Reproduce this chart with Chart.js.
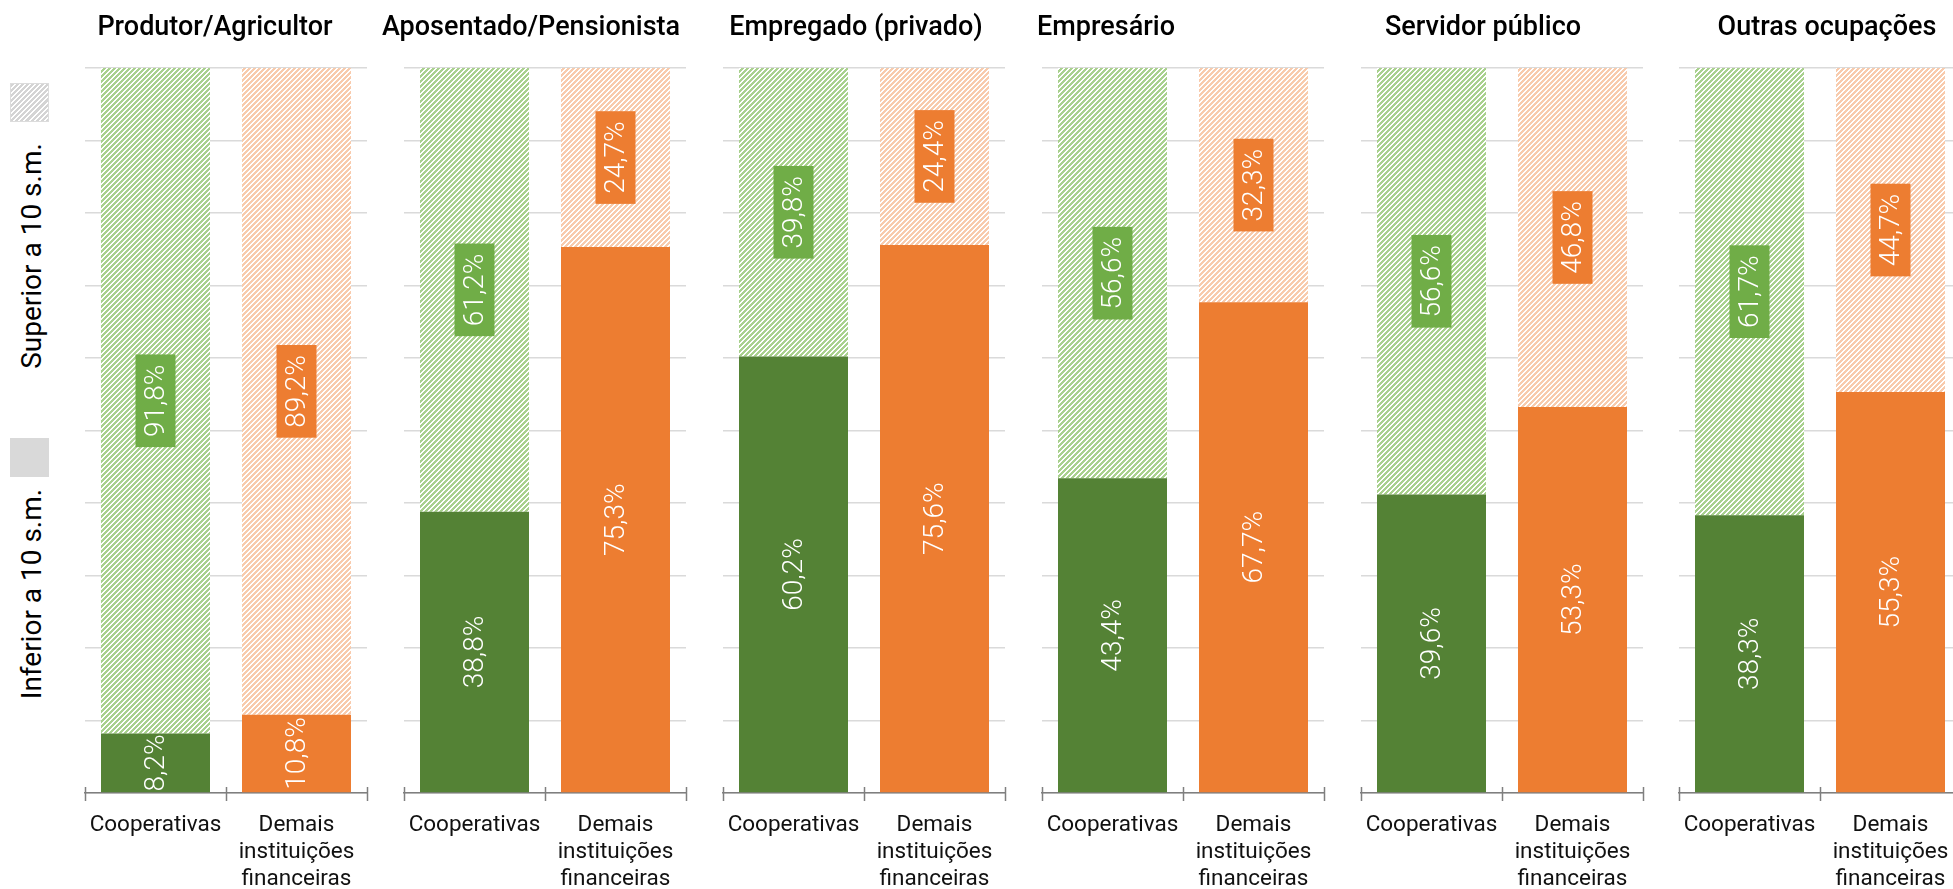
<!DOCTYPE html>
<html><head><meta charset="utf-8">
<script src="https://cdn.jsdelivr.net/npm/chart.js@4.4.1/dist/chart.umd.min.js"></script>
<style>
html,body{margin:0;padding:0;width:1953px;height:889px;overflow:hidden;background:#fff;}
canvas.panel{position:absolute;top:0;}
.lgbox{position:absolute;left:10px;width:39px;height:39px;box-sizing:border-box;}
.lgtext{position:absolute;white-space:nowrap;font-family:Roboto,sans-serif;font-size:28px;color:#000;transform:translate(-50%,-50%) rotate(-90deg);}
</style></head><body>
<div class="lgbox" style="top:83px;border:1px solid #dcdcdc;background:repeating-linear-gradient(135deg,#d4d4d4 0 2.2px,#fff 2.2px 3.6px);"></div>
<div class="lgtext" id="lgSup" style="left:31px;top:256px;"></div>
<div class="lgbox" style="top:438px;background:#d9d9d9;"></div>
<div class="lgtext" id="lgInf" style="left:31px;top:594px;"></div>
<script>
// ---- data ----
const occupations = ['Produtor/Agricultor','Aposentado/Pensionista','Empregado (privado)','Empresário','Servidor público','Outras ocupações'];
const institutions = ['Cooperativas', ['Demais','instituições','financeiras']];
const seriesNames = ['Inferior a 10 s.m.','Superior a 10 s.m.'];
const coopInferior   = [8.2, 38.8, 60.2, 43.4, 39.6, 38.3];
const coopSuperior   = [91.8, 61.2, 39.8, 56.6, 56.6, 61.7];
const demaisInferior = [10.8, 75.3, 75.6, 67.7, 53.3, 55.3];
const demaisSuperior = [89.2, 24.7, 24.4, 32.3, 46.8, 44.7];
const yTickValues = [0,10,20,30,40,50,60,70,80,90,100];

// ---- layout / style ----
const plotLefts = [85, 404, 723, 1042, 1361, 1679];
const titleCenters = [215, 531, 856, 1106, 1483, 1827];
const PAD_L = 34, PAD_R = 10, PLOT_W = 282;
const C_GREEN = '#548235', C_ORANGE = '#ed7d31';
const C_GREEN_LBL = '#70ad47', C_ORANGE_LBL = '#ed7d31';
const C_GREEN_HATCH = '#a9d18e', C_ORANGE_HATCH = '#f8cbad';

document.getElementById('lgSup').textContent = seriesNames[1];
document.getElementById('lgInf').textContent = seriesNames[0];

function fmt(v){ return v.toFixed(1).replace('.', ',') + '%'; }

function makePattern(ctx, color){
  const n = 5;
  const c = document.createElement('canvas'); c.width = n; c.height = n;
  const g = c.getContext('2d');
  g.fillStyle = '#fff'; g.fillRect(0,0,n,n);
  g.fillStyle = color;
  for (let y=0;y<n;y++) for (let x=0;x<n;x++) { if (((x+y)%n) < 3) g.fillRect(x,y,1,1); }
  return ctx.createPattern(c, 'repeat');
}

const segLabels = {
  id: 'segLabels',
  afterDatasetsDraw(chart){
    const {ctx, chartArea} = chart;
    ctx.save();
    ctx.beginPath(); ctx.rect(chartArea.left, chartArea.top, chartArea.width, chartArea.height); ctx.clip();
    ctx.font = '300 28px Roboto, sans-serif';
    ctx.textAlign = 'center'; ctx.textBaseline = 'middle';
    chart.data.datasets.forEach((ds, di) => {
      const meta = chart.getDatasetMeta(di);
      meta.data.forEach((el, i) => {
        const txt = ds.labelText[i];
        const cy = (el.y + el.base) / 2;
        ctx.save();
        ctx.translate(el.x, cy);
        ctx.rotate(-Math.PI/2);
        const w = ctx.measureText(txt).width;
        if (ds.labelBox) { ctx.fillStyle = ds.labelBox[i]; ctx.fillRect(-w/2-10, -20, w+20, 40); }
        ctx.fillStyle = '#fff';
        ctx.fillText(txt, 0, 1);
        ctx.restore();
      });
    });
    ctx.restore();
  }
};

const axisTicks = {
  id: 'axisTicks',
  afterDraw(chart){
    const {ctx, chartArea} = chart;
    const xs = [chartArea.left, (chartArea.left+chartArea.right)/2, chartArea.right];
    ctx.save();
    ctx.strokeStyle = '#7f7f7f'; ctx.lineWidth = 1.5;
    xs.forEach(x => { ctx.beginPath(); ctx.moveTo(Math.round(x)+0.5, chartArea.bottom-6); ctx.lineTo(Math.round(x)+0.5, chartArea.bottom+8); ctx.stroke(); });
    // panel title
    const t = chart.options.plugins.panelTitle;
    ctx.font = '500 27px Roboto, sans-serif';
    ctx.fillStyle = '#000'; ctx.textAlign = 'center'; ctx.textBaseline = 'alphabetic';
    ctx.fillText(t.text, t.x, 35);
    ctx.restore();
  }
};

occupations.forEach((occ, k) => {
  const cv = document.createElement('canvas');
  cv.className = 'panel';
  const left = plotLefts[k] - PAD_L;
  cv.width = PLOT_W + PAD_L + PAD_R; cv.height = 889;
  cv.style.left = left + 'px';
  cv.style.width = cv.width + 'px'; cv.style.height = '889px';
  document.body.appendChild(cv);
  const ctx = cv.getContext('2d');
  const totC = coopInferior[k] + coopSuperior[k];
  const totD = demaisInferior[k] + demaisSuperior[k];
  new Chart(ctx, {
    type: 'bar',
    data: {
      labels: institutions,
      datasets: [
        { label: seriesNames[0],
          data: [coopInferior[k]/totC*100, demaisInferior[k]/totD*100],
          labelText: [fmt(coopInferior[k]), fmt(demaisInferior[k])],
          backgroundColor: [C_GREEN, C_ORANGE], borderWidth: 0 },
        { label: seriesNames[1],
          data: [coopSuperior[k]/totC*100, demaisSuperior[k]/totD*100],
          labelText: [fmt(coopSuperior[k]), fmt(demaisSuperior[k])],
          labelBox: [C_GREEN_LBL, C_ORANGE_LBL],
          backgroundColor: [makePattern(ctx, C_GREEN_HATCH), makePattern(ctx, C_ORANGE_HATCH)], borderWidth: 0 }
      ]
    },
    options: {
      responsive: false, animation: false, devicePixelRatio: 1,
      layout: { padding: { left: PAD_L, right: PAD_R, top: 68, bottom: 0 } },
      datasets: { bar: { barPercentage: 0.773, categoryPercentage: 1 } },
      plugins: {
        legend: { display: false }, title: { display: false }, tooltip: { enabled: false },
        panelTitle: { text: occ, x: titleCenters[k] - left }
      },
      scales: {
        x: {
          stacked: true,
          grid: { display: false, drawTicks: false },
          border: { display: true, color: '#7f7f7f', width: 1.5 },
          ticks: { color: '#111', padding: 19, maxRotation: 0, autoSkip: false,
                   font: { family: 'Roboto, sans-serif', size: 22.5, lineHeight: 1.2 } },
          afterFit(s){ s.height = 96; }
        },
        y: {
          stacked: true, min: 0, max: 100,
          afterBuildTicks(s){ s.ticks = yTickValues.map(v => ({ value: v })); },
          ticks: { display: false },
          border: { display: false },
          grid: { color: '#dadada', lineWidth: 1.5, drawTicks: false },
          afterFit(s){ s.width = 0; }
        }
      }
    },
    plugins: [segLabels, axisTicks]
  });
});
</script>
</body></html>
